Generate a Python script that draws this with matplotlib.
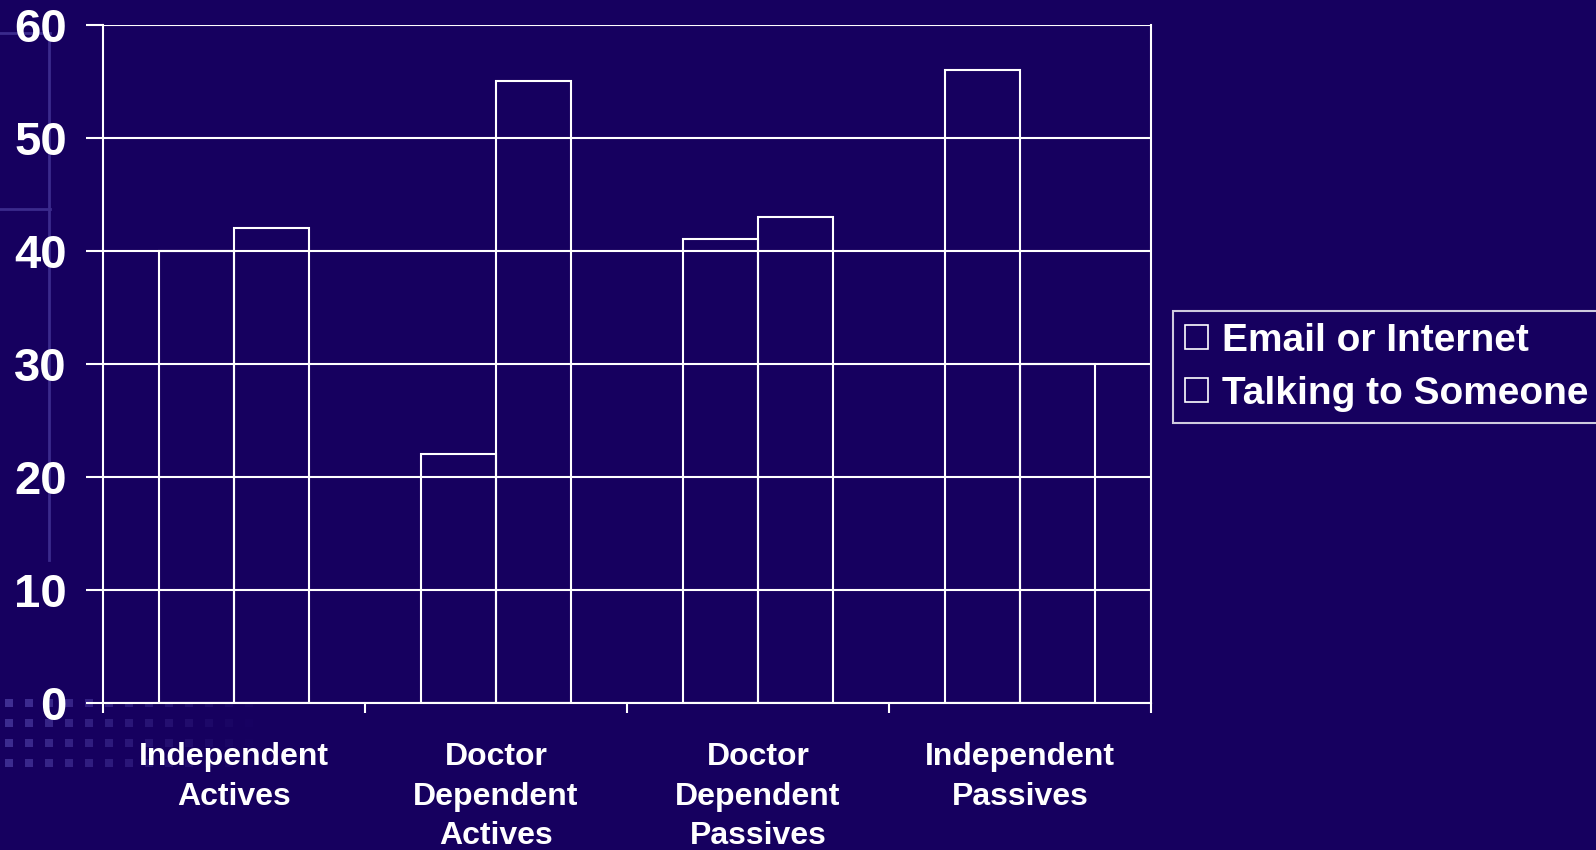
import matplotlib.pyplot as plt
import numpy as np
from matplotlib.lines import Line2D
from matplotlib.patches import Rectangle

categories = ["Independent\nActives", "Doctor\nDependent\nActives",
              "Doctor\nDependent\nPassives", "Independent\nPassives"]
email = [40, 22, 41, 56]
talking = [42, 55, 43, 30]
series_names = ["Email or Internet", "Talking to Someone"]

BG = "#16005f"
FAINT = "#3b2a8c"

plt.rcParams["font.family"] = ["Liberation Sans", "DejaVu Sans"]
plt.rcParams["font.weight"] = "bold"

W, H = 1596, 850
fig = plt.figure(figsize=(W / 100, H / 100), dpi=100, facecolor=BG)

# template decoration: faint frame lines and dotted squares lower left
deco = dict(color=FAINT, lw=2, zorder=-2)
fig.add_artist(Line2D([0, 50 / W], [1 - 33 / H, 1 - 33 / H], **deco))
fig.add_artist(Line2D([0, 50 / W], [1 - 209 / H, 1 - 209 / H], **deco))
fig.add_artist(Line2D([49 / W, 49 / W], [1 - 33 / H, 1 - 560 / H], **deco))
for r, y in enumerate([703, 723, 743, 763]):
    for c in range(13):
        x = 5 + c * 20
        a = max(0.0, 0.75 - c * 0.06 + (0.05 if r == 0 else 0))
        fig.add_artist(Rectangle((x / W, 1 - (y + 4) / H), 8 / W, 8 / H,
                                 transform=fig.transFigure, color="#4a3aa0",
                                 alpha=a, lw=0, zorder=-2))

ax = fig.add_axes([103 / W, 1 - 703 / H, (1151 - 103) / W, (703 - 24.5) / H])
ax.set_facecolor(BG)

x = np.arange(len(categories))
bw = 0.287
ax.bar(x - bw / 2, email, bw, facecolor="none", edgecolor="white", lw=1.5,
       label=series_names[0], zorder=3)
ax.bar(x + bw / 2, talking, bw, facecolor="none", edgecolor="white", lw=1.5,
       label=series_names[1], zorder=3)

ax.set_xlim(-0.5, len(categories) - 0.5)
ax.set_ylim(0, 60)
ax.set_yticks(range(0, 61, 10))
ax.yaxis.grid(True, color="white", lw=1.5, zorder=1)
ax.set_axisbelow(True)

for side in ["left", "right", "bottom"]:
    ax.spines[side].set_color("white")
    ax.spines[side].set_linewidth(1.5)
ax.spines["top"].set_visible(False)

ax.set_xticks(x)
ax.set_xticklabels(categories, fontsize=23, color="white", fontweight="bold",
                   linespacing=1.42)
ax.set_xticks(np.arange(len(categories) + 1) - 0.5, minor=True)
ax.tick_params(axis="x", which="major", length=0, pad=28)
ax.tick_params(axis="x", which="minor", length=7, width=1.5, color="white",
               direction="out")
ax.tick_params(axis="y", length=12, width=1.5, color="white", pad=14,
               labelsize=34, labelcolor="white")
for lab in ax.get_yticklabels():
    lab.set_fontweight("bold")

leg = fig.legend(loc="upper left", bbox_to_anchor=(1173 / W, 1 - 311 / H),
                 frameon=True, facecolor=BG, edgecolor="white", fontsize=28,
                 labelcolor="white", handlelength=0.59, handleheight=0.59,
                 handletextpad=0.36, borderpad=0.3, labelspacing=0.44,
                 fancybox=False, borderaxespad=0)
leg.get_frame().set_linewidth(1.5)
for t in leg.get_texts():
    t.set_fontweight("bold")
for h in leg.legend_handles:
    h.set_linewidth(1.2)
    h.set_facecolor(BG)

fig.savefig("out.png", dpi=100, facecolor=BG)
